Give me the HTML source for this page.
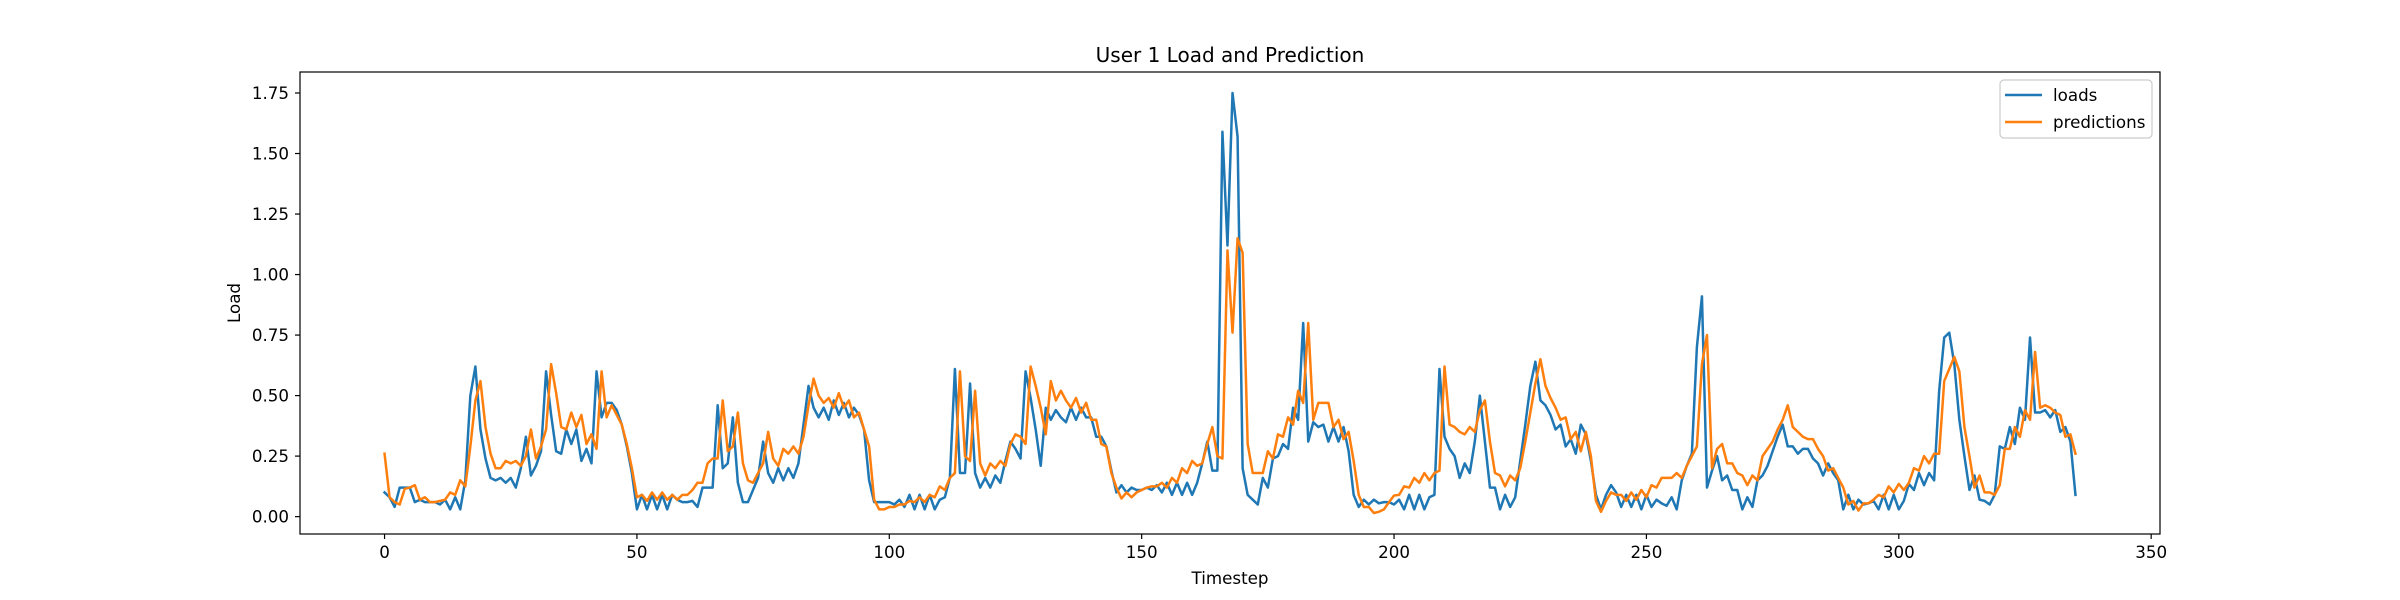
<!DOCTYPE html>
<html><head><meta charset="utf-8"><style>
html,body{margin:0;padding:0;background:#fff;}
svg{display:block;font-family:"DejaVu Sans","Liberation Sans",sans-serif;}
</style></head>
<body>
<svg id="chart" width="2400" height="600" viewBox="0 0 2400 600" xmlns="http://www.w3.org/2000/svg">
<rect width="2400" height="600" fill="#fff"/>
<text x="1230" y="62" font-size="20" text-anchor="middle" fill="#000">User 1 Load and Prediction</text>
<g id="plot"></g>
<text x="1230" y="584" font-size="16.7" text-anchor="middle" fill="#000">Timestep</text>
<text x="0" y="0" font-size="16.7" text-anchor="middle" fill="#000" transform="translate(240,303) rotate(-90)">Load</text>
<g>
<rect x="2000" y="80" width="152" height="58" rx="4" fill="#fff" fill-opacity="0.8" stroke="#ccc" stroke-width="1.2"/>
<line x1="2005" y1="95" x2="2042" y2="95" stroke="#1f77b4" stroke-width="2.5"/>
<text x="2053" y="101" font-size="16.7" fill="#000">loads</text>
<line x1="2005" y1="122" x2="2042" y2="122" stroke="#ff7f0e" stroke-width="2.5"/>
<text x="2053" y="128" font-size="16.7" fill="#000">predictions</text>
</g>
</svg>
<script>
const loads = [0.10,0.08,0.04,0.12,0.12,0.12,0.06,0.07,0.06,0.06,
0.06,0.05,0.07,0.03,0.08,0.03,0.15,0.50,0.62,0.36,
0.24,0.16,0.15,0.16,0.14,0.16,0.12,0.20,0.33,0.17,
0.21,0.27,0.60,0.42,0.27,0.26,0.36,0.30,0.36,0.23,
0.28,0.22,0.60,0.41,0.47,0.47,0.44,0.38,0.29,0.18,
0.03,0.09,0.03,0.09,0.03,0.09,0.03,0.09,0.07,0.06,
0.06,0.065,0.04,0.12,0.12,0.12,0.46,0.20,0.22,0.41,
0.14,0.06,0.06,0.11,0.16,0.31,0.18,0.14,0.20,0.15,
0.20,0.16,0.22,0.38,0.54,0.45,0.41,0.45,0.40,0.48,
0.42,0.47,0.41,0.45,0.42,0.36,0.15,0.06,0.06,0.06,
0.06,0.05,0.07,0.04,0.09,0.03,0.09,0.03,0.09,0.03,
0.07,0.08,0.16,0.61,0.18,0.18,0.55,0.18,0.12,0.16,
0.12,0.17,0.14,0.23,0.31,0.28,0.24,0.60,0.49,0.36,
0.21,0.45,0.40,0.44,0.41,0.39,0.45,0.40,0.45,0.41,
0.41,0.33,0.33,0.29,0.19,0.10,0.13,0.10,0.12,0.11,
0.11,0.12,0.11,0.13,0.10,0.14,0.09,0.14,0.09,0.14,
0.09,0.14,0.22,0.31,0.19,0.19,1.59,1.12,1.75,1.57,
0.20,0.09,0.07,0.05,0.16,0.12,0.24,0.25,0.30,0.28,
0.45,0.40,0.80,0.31,0.39,0.37,0.38,0.31,0.37,0.31,
0.37,0.27,0.09,0.04,0.07,0.05,0.07,0.055,0.06,0.06,
0.05,0.07,0.03,0.09,0.03,0.09,0.03,0.08,0.09,0.61,
0.33,0.28,0.25,0.16,0.22,0.18,0.31,0.50,0.31,0.12,
0.12,0.03,0.09,0.04,0.08,0.23,0.38,0.54,0.64,0.48,
0.46,0.42,0.36,0.38,0.29,0.32,0.26,0.38,0.34,0.23,
0.09,0.03,0.09,0.13,0.10,0.04,0.09,0.04,0.09,0.03,
0.09,0.04,0.07,0.055,0.045,0.08,0.03,0.15,0.21,0.26,
0.70,0.91,0.12,0.19,0.25,0.15,0.17,0.11,0.11,0.03,
0.08,0.04,0.15,0.17,0.21,0.27,0.33,0.38,0.29,0.29,
0.26,0.28,0.28,0.24,0.22,0.17,0.22,0.18,0.15,0.03,
0.09,0.03,0.07,0.05,0.055,0.065,0.03,0.09,0.03,0.09,
0.03,0.065,0.135,0.11,0.18,0.13,0.18,0.15,0.52,0.74,
0.76,0.63,0.40,0.25,0.11,0.17,0.07,0.065,0.05,0.09,
0.29,0.28,0.37,0.30,0.45,0.40,0.74,0.43,0.43,0.44,
0.41,0.44,0.35,0.37,0.31,0.09];
const predictions = [0.26,0.08,0.06,0.05,0.115,0.12,0.13,0.07,0.08,0.06,
0.06,0.065,0.07,0.10,0.09,0.15,0.125,0.29,0.48,0.56,
0.37,0.26,0.20,0.20,0.23,0.22,0.23,0.21,0.25,0.36,
0.24,0.29,0.36,0.63,0.51,0.37,0.36,0.43,0.37,0.42,
0.30,0.34,0.28,0.60,0.41,0.46,0.42,0.38,0.30,0.20,
0.08,0.09,0.065,0.10,0.07,0.10,0.07,0.09,0.07,0.09,
0.09,0.11,0.14,0.14,0.22,0.24,0.24,0.48,0.27,0.29,
0.43,0.22,0.15,0.14,0.18,0.22,0.35,0.24,0.21,0.28,
0.26,0.29,0.26,0.33,0.46,0.57,0.50,0.47,0.49,0.45,
0.51,0.45,0.48,0.41,0.43,0.36,0.29,0.07,0.03,0.03,
0.04,0.04,0.05,0.05,0.065,0.06,0.08,0.06,0.09,0.08,
0.125,0.11,0.16,0.18,0.60,0.25,0.23,0.52,0.22,0.17,
0.22,0.20,0.23,0.21,0.30,0.34,0.33,0.30,0.62,0.54,
0.45,0.34,0.56,0.48,0.52,0.48,0.45,0.49,0.43,0.47,
0.40,0.40,0.30,0.29,0.18,0.12,0.075,0.10,0.08,0.10,
0.11,0.12,0.125,0.125,0.14,0.12,0.16,0.14,0.20,0.18,
0.23,0.21,0.22,0.30,0.37,0.25,0.24,1.10,0.76,1.15,
1.09,0.30,0.18,0.18,0.18,0.27,0.24,0.34,0.33,0.41,
0.38,0.52,0.47,0.80,0.40,0.47,0.47,0.47,0.37,0.40,
0.32,0.35,0.23,0.09,0.04,0.04,0.015,0.02,0.03,0.06,
0.087,0.09,0.125,0.12,0.16,0.14,0.18,0.15,0.18,0.19,
0.62,0.38,0.37,0.35,0.34,0.37,0.35,0.44,0.48,0.31,
0.18,0.17,0.125,0.17,0.15,0.20,0.31,0.43,0.55,0.65,
0.54,0.49,0.45,0.40,0.41,0.32,0.35,0.27,0.35,0.25,
0.065,0.02,0.065,0.10,0.09,0.09,0.065,0.10,0.07,0.11,
0.08,0.13,0.12,0.16,0.16,0.16,0.18,0.16,0.21,0.25,
0.29,0.63,0.75,0.20,0.28,0.30,0.22,0.22,0.18,0.17,
0.13,0.17,0.15,0.25,0.28,0.31,0.36,0.40,0.46,0.37,
0.35,0.33,0.32,0.32,0.28,0.25,0.19,0.20,0.16,0.12,
0.05,0.065,0.025,0.055,0.055,0.07,0.09,0.08,0.125,0.10,
0.135,0.11,0.14,0.20,0.19,0.25,0.22,0.26,0.26,0.56,
0.61,0.66,0.60,0.37,0.25,0.12,0.17,0.10,0.10,0.09,
0.13,0.28,0.28,0.37,0.33,0.44,0.40,0.68,0.45,0.46,
0.45,0.43,0.42,0.33,0.34,0.26];
const xTicks = [0,50,100,150,200,250,300,350];
const yTicks = [0.00,0.25,0.50,0.75,1.00,1.25,1.50,1.75];

const NS = "http://www.w3.org/2000/svg";
const L = 300, R = 2160, T = 72, B = 534;
const n = Math.max(loads.length, predictions.length);
const xmin0 = 0, xmax0 = n - 1;
const xpad = (xmax0 - xmin0) * 0.05;
const xmin = xmin0 - xpad, xmax = xmax0 + xpad;
const all = loads.concat(predictions);
const ymin0 = Math.min(...all), ymax0 = Math.max(...all);
const ypad = (ymax0 - ymin0) * 0.05;
const ymin = ymin0 - ypad, ymax = ymax0 + ypad;
function xs(v){ return L + (v - xmin) / (xmax - xmin) * (R - L); }
function ys(v){ return B - (v - ymin) / (ymax - ymin) * (B - T); }

const plot = document.getElementById('plot');
function mk(tag, attrs){ const e = document.createElementNS(NS, tag); for (const k in attrs) e.setAttribute(k, attrs[k]); return e; }

function series(data, color, name){
  let d = '';
  data.forEach((v,i)=>{ d += (i ? 'L' : 'M') + xs(i).toFixed(2) + ',' + ys(v).toFixed(2); });
  const p = mk('path', {d:d, fill:'none', stroke:color, 'stroke-width':2.5, 'stroke-linejoin':'round', 'stroke-linecap':'square'});
  
  
  plot.appendChild(p);
}
series(loads, '#1f77b4', 'loads-line');
series(predictions, '#ff7f0e', 'predictions-line');

const frame = mk('rect', {x:L, y:T, width:R-L, height:B-T, fill:'none', stroke:'#000', 'stroke-width':1.2});


plot.appendChild(frame);

xTicks.forEach(t=>{
  const x = xs(t);
  const tk = mk('line', {x1:x, y1:B, x2:x, y2:B+5, stroke:'#000', 'stroke-width':1.2});
  
  
  plot.appendChild(tk);
  const lb = mk('text', {x:x, y:B+24, 'font-size':16.7, 'text-anchor':'middle', fill:'#000'});
  lb.textContent = String(t);
  
  
  plot.appendChild(lb);
});
yTicks.forEach(t=>{
  const y = ys(t);
  const tk = mk('line', {x1:L-5, y1:y, x2:L, y2:y, stroke:'#000', 'stroke-width':1.2});
  
  
  plot.appendChild(tk);
  const lb = mk('text', {x:L-11, y:y+6, 'font-size':16.7, 'text-anchor':'end', fill:'#000'});
  lb.textContent = t.toFixed(2);
  
  
  plot.appendChild(lb);
});
</script>
</body></html>
